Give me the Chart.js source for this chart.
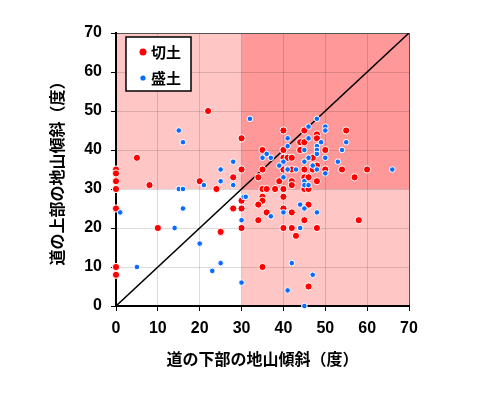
<!DOCTYPE html>
<html>
<head>
<meta charset="utf-8">
<script src="https://cdn.jsdelivr.net/npm/chart.js@4/dist/chart.umd.min.js"></script>
<style>
  html, body { margin: 0; padding: 0; background: #ffffff; }
  #wrap { width: 500px; height: 396px; }
</style>
</head>
<body>
<div id="wrap"><canvas id="c" width="500" height="396"></canvas></div>
<script>
// ---- data ----
const seriesNames = ['切土', '盛土'];
const xTitle = '道の下部の地山傾斜（度）';
const yTitle = '道の上部の地山傾斜（度）';
const axisMin = 0, axisMax = 70, tickStep = 10;
const threshold = 30;

// 切土 (cut) — lower-slope angle
const cutX = [0,0,0,0,0,0,0,5,8,10,22,20,24,25,28,28,30,30,30,30,30,
  35,35,34,35,36,35,35,34,36,34,35,38,39,40,40,40,41,42,40,41,42,42,42,
  40,40,40,42,40,42,43,44,45,45,44,45,45,45,46,46,46,45,46,47,47,47,
  48,48,48,48,48,50,50,54,55,57,58,60];
// 切土 — upper-slope angle
const cutY = [35,34,32,30,25,10,8,38,31,20,50,32,30,19,33,25,43,35,27,25,20,
  40,35,33,30,30,28,27,26,24,22,10,30,32,45,40,38,38,38,35,35,35,32,31,
  30,28,25,24,20,20,18,42,42,45,40,35,33,30,30,33,26,22,5,38,36,35,
  44,43,36,32,20,40,35,35,45,33,22,35];

// 盛土 (fill) — lower-slope angle
const fillX = [1,5,14,15,16,15,16,16,20,21,23,25,25,25,28,28,30,30,30.5,31,
  32,35,36,37,37,39,40,40,40,41,41,41,42,41,43,44,44,45,45,45,45,45,45,
  46,46,46,46,47,47,48,48,48,48,48,48,49,50,50,50,50,53,54,55,66];
// 盛土 — upper-slope angle
const fillY = [24,10,20,45,42,30,30,25,16,31,9,35,32,11,37,31,22,6,28,28,
  48,38,39,38,23,36,37,33,24,43,41,35,11,4,35,26,20,40,37,32,31,25,0,
  46,43,38,31,36,8,48,41,40,39,35,24,42,46,45,38,34,37,40,42,35];

// 1:1 reference line
const diagX = [0, 70];
const diagY = [0, 70];

const toPts = (xs, ys) => xs.map((x, i) => ({ x: x, y: ys[i] }));

const JP = '"Noto Sans CJK JP", "Noto Sans", sans-serif';
const NUM = '"Liberation Sans", Arial, sans-serif';

const bgPlugin = {
  id: 'bgZones',
  beforeDraw(chart) {
    const { ctx, chartArea: a, scales: { x, y } } = chart;
    const xt = x.getPixelForValue(threshold);
    const yt = y.getPixelForValue(threshold);
    ctx.save();
    ctx.fillStyle = '#ffffff';
    ctx.fillRect(a.left, a.top, a.right - a.left, a.bottom - a.top);
    ctx.fillStyle = '#ffc6c6';
    ctx.fillRect(a.left, a.top, a.right - a.left, yt - a.top);
    ctx.fillRect(xt, a.top, a.right - xt, a.bottom - a.top);
    ctx.fillStyle = '#ff9898';
    ctx.fillRect(xt, a.top, a.right - xt, yt - a.top);
    ctx.restore();
  }
};

const legendPlugin = {
  id: 'boxLegend',
  afterDraw(chart) {
    const { ctx, chartArea: a } = chart;
    const bx = a.left + 10, by = a.top + 4, bw = 65, bh = 54;
    ctx.save();
    ctx.fillStyle = '#ffffff';
    ctx.fillRect(bx, by, bw, bh);
    ctx.strokeStyle = '#000000';
    ctx.lineWidth = 1.5;
    ctx.strokeRect(bx, by, bw, bh);
    const items = [
      { label: seriesNames[0], color: '#ff0000', r: 3.5, dy: 15 },
      { label: seriesNames[1], color: '#0a6cff', r: 2.6, dy: 41 }
    ];
    ctx.font = 'bold 15px ' + JP;
    ctx.textBaseline = 'middle';
    ctx.textAlign = 'left';
    items.forEach(it => {
      ctx.beginPath();
      ctx.arc(bx + 17, by + it.dy, it.r, 0, Math.PI * 2);
      ctx.fillStyle = it.color;
      ctx.fill();
      ctx.fillStyle = '#000000';
      ctx.fillText(it.label, bx + 25, by + it.dy);
    });
    ctx.restore();
  }
};

const gridColor = (ctx) => (ctx.tick && ctx.tick.value === axisMax) ? '#555555' : 'rgba(0,0,0,0.14)';

new Chart(document.getElementById('c'), {
  type: 'scatter',
  data: {
    datasets: [
      {
        label: seriesNames[0],
        data: toPts(cutX, cutY),
        backgroundColor: '#ff0000',
        borderColor: '#ffffff',
        borderWidth: 1,
        pointRadius: 3.6,
        pointHoverRadius: 3.6,
        clip: false,
        order: 2
      },
      {
        label: seriesNames[1],
        data: toPts(fillX, fillY),
        backgroundColor: '#0a6cff',
        borderColor: '#ffffff',
        borderWidth: 1,
        pointRadius: 2.8,
        pointHoverRadius: 2.8,
        clip: false,
        order: 1
      },
      {
        type: 'line',
        label: 'diag',
        data: toPts(diagX, diagY),
        borderColor: '#000000',
        borderWidth: 1.5,
        pointRadius: 0,
        fill: false,
        order: 3
      }
    ]
  },
  options: {
    responsive: false,
    animation: false,
    events: [],
    layout: { padding: { left: 43, right: 91, top: 33, bottom: 23 } },
    plugins: {
      legend: { display: false },
      tooltip: { enabled: false }
    },
    scales: {
      x: {
        type: 'linear',
        min: axisMin, max: axisMax,
        afterFit: (s) => { s.height = 67; },
        ticks: {
          stepSize: tickStep,
          color: '#000000',
          font: { family: NUM, size: 16, weight: 'bold' },
          padding: 8
        },
        grid: { color: gridColor, tickColor: '#000000', tickLength: 5, lineWidth: 1 },
        border: { color: '#000000', width: 2 },
        title: {
          display: true, text: xTitle, color: '#000000',
          font: { family: JP, size: 16, weight: 'bold' },
          padding: { top: 4, bottom: 4 }
        }
      },
      y: {
        type: 'linear',
        min: axisMin, max: axisMax,
        afterFit: (s) => { s.width = 73; },
        ticks: {
          stepSize: tickStep,
          color: '#000000',
          font: { family: NUM, size: 16, weight: 'bold' },
          padding: 9
        },
        grid: { color: gridColor, tickColor: '#000000', tickLength: 5, lineWidth: 1 },
        border: { color: '#000000', width: 2 },
        title: {
          display: true, text: yTitle, color: '#000000',
          font: { family: JP, size: 16, weight: 'bold' },
          padding: { top: 4, bottom: 4 }
        }
      }
    }
  },
  plugins: [bgPlugin, legendPlugin]
});
</script>
</body>
</html>
